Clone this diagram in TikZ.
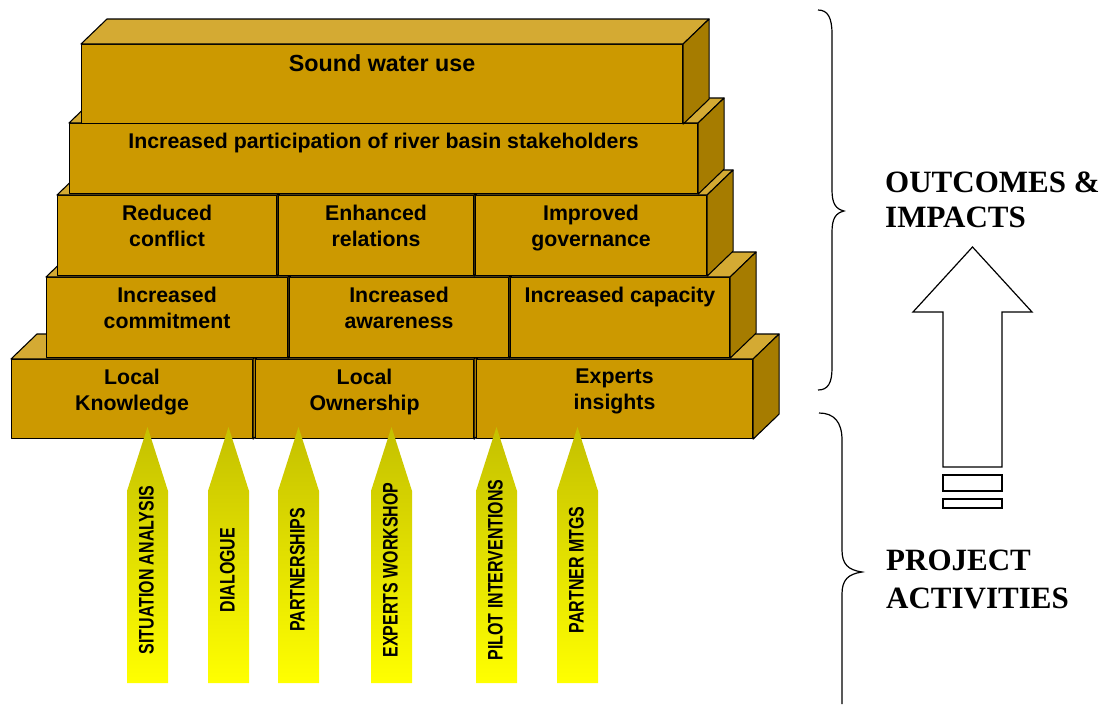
\documentclass[tikz,border=0pt]{standalone}
\usepackage{fontspec}
\setmainfont{Liberation Serif}
\setsansfont{Liberation Sans}
\usetikzlibrary{calc}

\definecolor{brickfront}{RGB}{204,153,0}
\definecolor{bricktop}{RGB}{212,170,51}
\definecolor{brickside}{RGB}{166,124,0}
\definecolor{arrowtop}{RGB}{196,192,0}
\definecolor{arrowbottom}{RGB}{255,255,0}

\tikzset{
  brickface/.style={draw=black, line width=1.1pt, fill=brickfront, inner sep=0pt,
    anchor=north west, line join=round},
  bricktopface/.style={draw=black, line width=1.1pt, fill=bricktop, line join=round},
  bricksideface/.style={draw=black, line width=1.1pt, fill=brickside, line join=round},
  bricklabel/.style={font=\sffamily\bfseries\fontsize{21.3}{26}\selectfont,
    align=center, inner sep=0pt, anchor=north},
  activityshape/.style={top color=arrowtop, bottom color=arrowbottom, draw=none},
  activitylabel/.style={font=\sffamily\bfseries\fontsize{21}{24}\selectfont,
    rotate=90, inner sep=0pt},
  bigarrow/.style={draw=black, line width=1.2pt, fill=white, line join=miter},
  bracepath/.style={draw=black, line width=1.2pt},
  sidelabel/.style={font=\rmfamily\bfseries\fontsize{31}{35}\selectfont,
    inner sep=0pt, anchor=base west},
}

% one 3D brick: name, left x, top y, width, height, label
\newcommand\brickbox[6]{%
  \node[brickface, minimum width=#4pt, minimum height=#5pt] (#1) at (#2,#3) {};
  \path[bricktopface] (#1.north west) -- ++(26,-25)
    -- ($(#1.north east)+(26,-25)$) -- (#1.north east) -- cycle;
  \path[bricksideface] (#1.north east) -- ++(26,-25)
    -- ($(#1.south east)+(26,-25)$) -- (#1.south east) -- cycle;
  \node[bricklabel] (#1-text) at ([yshift=-10pt]#1.north) {#6};
}

% one upward activity arrow: name, left x, label
\newcommand\activity[3]{%
  \path[activityshape] (#2,683) -- (#2,491) -- ({#2+20.5},427)
    -- ({#2+41},491) -- ({#2+41},683) -- cycle;
  \node[activitylabel] (#1) at ({#2+19.5},570) {\scalebox{0.76}[1]{#3}};
}

\begin{document}
\begin{tikzpicture}[x=1pt, y=-1pt]
\useasboundingbox (0,0) rectangle (1105,704);

% bottom layer
\brickbox{lk}{11}{359}{241}{79}{Local\\Knowledge}
\brickbox{lo}{255}{359}{218}{79}{Local\\Ownership}
\brickbox{ei}{476}{359}{276}{79}{Experts\\insights}
% second layer
\brickbox{ic}{46}{277}{241}{80}{Increased\\commitment}
\brickbox{ia}{289}{277}{219}{80}{Increased\\awareness}
\brickbox{icap}{510}{277}{219}{80}{Increased capacity}
% third layer
\brickbox{rc}{57}{195}{219}{80}{Reduced\\conflict}
\brickbox{er}{278}{195}{195}{80}{Enhanced\\relations}
\brickbox{ig}{475}{195}{231}{80}{Improved\\governance}
% fourth layer
\brickbox{ip}{69}{123}{628}{70}{Increased participation of river basin stakeholders}
% top layer
\brickbox{sw}{81}{44}{601}{79}{\fontsize{23.3}{27}\selectfont Sound water use}

% project activities
\activity{sa}{127}{SITUATION ANALYSIS}
\activity{dl}{208}{DIALOGUE}
\activity{ps}{278}{PARTNERSHIPS}
\activity{ew}{371}{EXPERTS WORKSHOP}
\activity{pi}{476}{PILOT INTERVENTIONS}
\activity{pm}{557}{PARTNER MTGS}

% braces
\path[bracepath] (818,10) .. controls (828,10) and (832,18) .. (832,34)
  -- (832,190) .. controls (832,204) and (836,209) .. (844,211)
  .. controls (836,213) and (832,218) .. (832,232)
  -- (832,368) .. controls (832,383) and (828,390) .. (818,390);
\path[bracepath] (819,413) .. controls (834,413) and (842,422) .. (842,440)
  -- (842,550) .. controls (842,564) and (848,570) .. (862,572)
  .. controls (848,574) and (842,580) .. (842,594)
  -- (842,704);

% side captions
\node[sidelabel] (oc1) at (885,192) {OUTCOMES \&};
\node[sidelabel] (oc2) at (885,227) {IMPACTS};
\node[sidelabel] (pa1) at (886,570) {PROJECT};
\node[sidelabel] (pa2) at (886,608) {ACTIVITIES};

% hollow upward arrow
\path[bigarrow] (943,467) -- (943,312) -- (913,312) -- (972.5,247)
  -- (1032,312) -- (1002,312) -- (1002,467) -- cycle;
\path[bigarrow] (943,475) rectangle (1002,491);
\path[bigarrow] (943,499) rectangle (1002,508);
\end{tikzpicture}
\end{document}
